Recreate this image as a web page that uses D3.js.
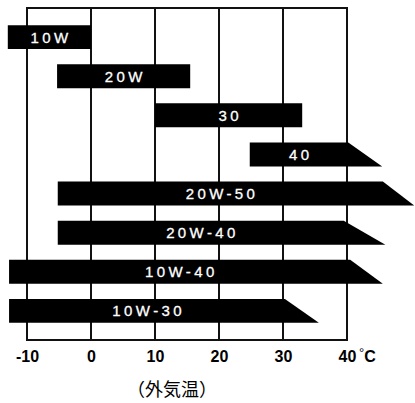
<!DOCTYPE html>
<html>
<head>
<meta charset="utf-8">
<script src="https://cdn.jsdelivr.net/npm/d3@7"></script>
<style>
    html, body { margin: 0; padding: 0; background: #fff; }
    svg { display: block; }
</style>
</head>
<body>
<div id="visualization"></div>
<script>
// oil grades and the temperature range each one covers (deg C)
const grades = ["10W", "20W", "30", "40", "20W-50", "20W-40", "10W-40", "10W-30"];
const lowTemps = [-13, -5.3, 10, 24.8, -5.2, -5.2, -12.8, -12.8];
const highTemps = [0, 15.5, 33, 40.2, 45.6, 39.5, 40.5, 30.3];
// where the slanted arrow end reaches (null = square end)
const arrowTips = [null, null, null, 45.5, 50.5, 46, 45.6, 35.6];

const tickValues = [-10, 0, 10, 20, 30, 40];
const gridLines = [0, 10, 20, 30];
const unitLabel = "°C";
const caption = "（外気温）";

const width = 415, height = 403;
const frameTop = 8, frameBottom = 340;

const container = d3.select("#visualization");
const svg = container.append("svg")
    .attr("width", width)
    .attr("height", height);

const x = d3.scaleLinear()
    .domain([-10, 40])
    .range([27, 347]);

const y = d3.scaleBand()
    .domain(grades)
    .range([10, 338])
    .padding(0.387);

// frame + vertical grid
svg.append("rect")
    .attr("x", x(-10))
    .attr("y", frameTop)
    .attr("width", x(40) - x(-10))
    .attr("height", frameBottom - frameTop)
    .attr("fill", "none")
    .attr("stroke", "#111")
    .attr("stroke-width", 2);

svg.selectAll(".grid")
    .data(gridLines)
    .enter().append("line")
    .attr("class", "grid")
    .attr("x1", d => x(d))
    .attr("x2", d => x(d))
    .attr("y1", frameTop)
    .attr("y2", frameBottom)
    .attr("stroke", "#111")
    .attr("stroke-width", 2);

// build bar records from the arrays
const bars = grades.map((g, i) => ({
    grade: g,
    low: lowTemps[i],
    high: highTemps[i],
    tip: arrowTips[i] === null ? highTemps[i] : arrowTips[i]
}));

function barPath(d) {
    const top = y(d.grade);
    const bottom = top + y.bandwidth();
    return "M" + x(d.low) + "," + top +
        "L" + x(d.high) + "," + top +
        "L" + x(d.tip) + "," + bottom +
        "L" + x(d.low) + "," + bottom + "Z";
}

svg.selectAll(".bar")
    .data(bars)
    .enter().append("path")
    .attr("class", "bar")
    .attr("d", barPath)
    .attr("fill", "#000");

svg.selectAll(".bar-label")
    .data(bars)
    .enter().append("text")
    .attr("class", "bar-label")
    .attr("x", d => (x(d.low) + x(d.high)) / 2 + 1.7)
    .attr("y", d => y(d.grade) + y.bandwidth() / 2 + 5.5)
    .attr("text-anchor", "middle")
    .attr("fill", "#fff")
    .attr("stroke", "#fff")
    .attr("stroke-width", 0.3)
    .style("font-family", "'Liberation Sans', Arial, sans-serif")
    .style("font-size", "15px")
    .style("letter-spacing", "3.4px")
    .text(d => d.grade);

// axis labels under the frame
const axis = d3.axisBottom(x)
    .tickValues(tickValues)
    .tickSize(0)
    .tickFormat(d => String(d));

const axisG = svg.append("g")
    .attr("transform", "translate(0," + frameBottom + ")")
    .call(axis);

axisG.select(".domain").remove();
axisG.selectAll("text")
    .attr("y", 22)
    .attr("dy", 0)
    .attr("fill", "#000")
    .style("font-family", "'Liberation Sans', Arial, sans-serif")
    .style("font-size", "16px")
    .style("font-weight", "bold");

// degree sign + C after the last tick
const unit = svg.append("text")
    .attr("x", x(40) + 12)
    .attr("y", frameBottom + 22)
    .attr("fill", "#000")
    .style("font-family", "'Liberation Sans', Arial, sans-serif")
    .style("font-size", "16px")
    .style("font-weight", "bold");
unit.append("tspan")
    .attr("dy", -5)
    .style("font-size", "13px")
    .style("font-weight", "normal")
    .text(unitLabel[0]);
unit.append("tspan")
    .attr("dy", 5)
    .text(unitLabel.slice(1));

svg.append("text")
    .attr("x", 172)
    .attr("y", 396)
    .attr("text-anchor", "middle")
    .attr("fill", "#000")
    .style("font-family", "'Noto Sans CJK JP', sans-serif")
    .style("font-size", "18px")
    .text(caption);
</script>
</body>
</html>
